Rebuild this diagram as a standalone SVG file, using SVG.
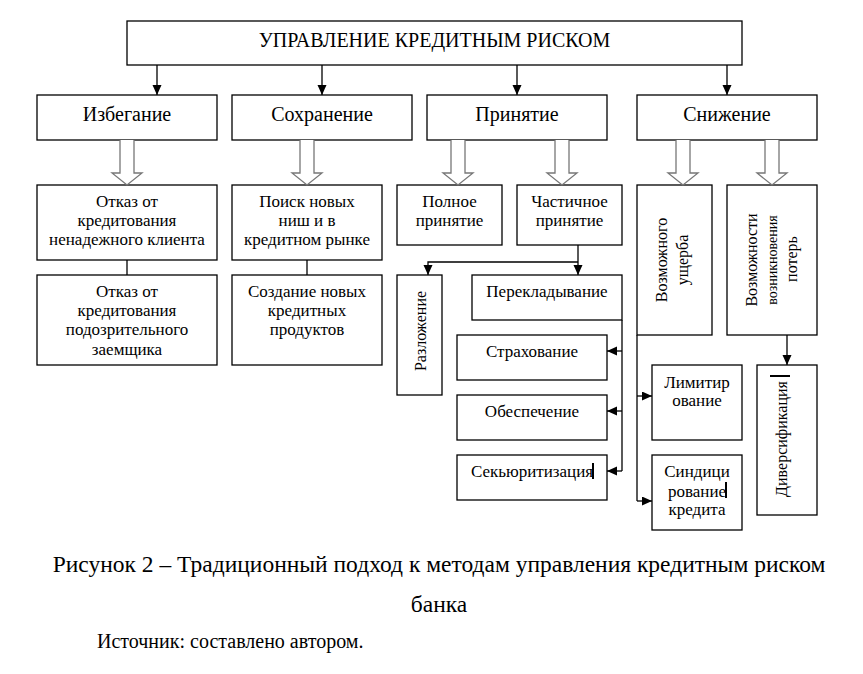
<svg xmlns="http://www.w3.org/2000/svg" width="863" height="674" viewBox="0 0 863 674" font-family="'Liberation Serif', serif">
<style>
.box{fill:#fff;stroke:#000;stroke-width:1.3}
.t{fill:#000;text-anchor:middle}
.h{font-size:20px}
.s{font-size:17px}
.r{font-size:16px}
.ln{fill:none;stroke:#000;stroke-width:1.3}
.ar{fill:none;stroke:#000;stroke-width:1.3;marker-end:url(#ah)}
.ha{fill:#fff;stroke:#777;stroke-width:1.3}
.cur{fill:#000}
</style>
<defs>
<marker id="ah" markerUnits="userSpaceOnUse" markerWidth="10" markerHeight="10" refX="10" refY="4.5" orient="auto">
<path d="M0,0 L10,4.5 L0,9 z" fill="#000"/>
</marker>
</defs>
<rect width="863" height="674" fill="#fff"/>

<g id="root"><rect class="box" x="127" y="21" width="615" height="44"/><text class="t h" x="434.5" y="47">УПРАВЛЕНИЕ КРЕДИТНЫМ РИСКОМ</text></g>

<g id="izb"><rect class="box" x="37" y="95" width="180" height="45"/><text class="t h" x="127" y="121">Избегание</text></g>
<g id="sokh"><rect class="box" x="232" y="95" width="180" height="45"/><text class="t h" x="322" y="121">Сохранение</text></g>
<g id="prin"><rect class="box" x="427" y="95" width="180" height="45"/><text class="t h" x="517" y="121">Принятие</text></g>
<g id="snizh"><rect class="box" x="637" y="95" width="180" height="45"/><text class="t h" x="727" y="121">Снижение</text></g>

<g id="otkaz1"><rect class="box" x="37" y="185" width="180" height="75"/><text class="t s" x="127" y="207">Отказ от<tspan x="127" y="226">кредитования</tspan><tspan x="127" y="245">ненадежного клиента</tspan></text></g>
<g id="otkaz2"><rect class="box" x="37" y="275" width="180" height="90"/><text class="t s" x="127" y="297">Отказ от<tspan x="127" y="316">кредитования</tspan><tspan x="127" y="335">подозрительного</tspan><tspan x="127" y="355">заемщика</tspan></text></g>
<g id="poisk"><rect class="box" x="232" y="185" width="150" height="75"/><text class="t s" x="307" y="207">Поиск новых<tspan x="307" y="226">ниш и в</tspan><tspan x="307" y="245">кредитном рынке</tspan></text></g>
<g id="sozd"><rect class="box" x="232" y="275" width="150" height="90"/><text class="t s" x="307" y="297">Создание новых<tspan x="307" y="316">кредитных</tspan><tspan x="307" y="335">продуктов</tspan></text></g>

<g id="polnoe"><rect class="box" x="397" y="185" width="105" height="60"/><text class="t s" x="449.5" y="207">Полное<tspan x="449.5" y="226">принятие</tspan></text></g>
<g id="chast"><rect class="box" x="517" y="185" width="105" height="60"/><text class="t s" x="569.5" y="207">Частичное<tspan x="569.5" y="226">принятие</tspan></text></g>

<g id="razl"><rect class="box" x="397" y="275" width="45" height="120"/><text class="t r" transform="translate(426,331) rotate(-90)">Разложение</text></g>
<g id="perekl"><rect class="box" x="472" y="275" width="150" height="45"/><text class="t s" x="547" y="297">Перекладывание</text></g>
<g id="strakh"><rect class="box" x="457" y="335" width="150" height="45"/><text class="t s" x="532" y="357">Страхование</text></g>
<g id="obesp"><rect class="box" x="457" y="395" width="150" height="45"/><text class="t s" x="532" y="417">Обеспечение</text></g>
<g id="sek"><rect class="box" x="457" y="455" width="150" height="45"/><text class="t s" x="532" y="477">Секьюритизация</text><rect class="cur" x="592" y="463" width="2" height="16"/></g>

<g id="vozm"><rect class="box" x="637" y="185" width="75" height="150"/><text class="t r" transform="translate(667,260) rotate(-90)">Возможного</text><text class="t r" transform="translate(688,260) rotate(-90)">ущерба</text></g>
<g id="vozmpot"><rect class="box" x="727" y="185" width="90" height="150"/><text class="t r" transform="translate(757,260) rotate(-90)">Возможности</text><text class="t" style="font-size:14px" transform="translate(777,260) rotate(-90)">возникновения</text><text class="t r" transform="translate(797,259) rotate(-90)">потерь</text></g>
<g id="limit"><rect class="box" x="652" y="365" width="90" height="75"/><text class="t s" x="697" y="388">Лимитир<tspan x="697" y="406">ование</tspan></text></g>
<g id="sindic"><rect class="box" x="652" y="455" width="90" height="75"/><text class="t s" x="697" y="477">Синдици<tspan x="697" y="497">рование</tspan><tspan x="697" y="515">кредита</tspan></text><rect class="cur" x="725" y="482" width="2" height="16"/></g>
<g id="divers"><rect class="box" x="757" y="365" width="60" height="150"/><text class="t r" transform="translate(787,439) rotate(-90)">Диверсификация</text><rect class="cur" x="770" y="375" width="20" height="2"/></g>

<g id="connectors">
<path class="ar" d="M157,65 V95"/>
<path class="ar" d="M322,65 V95"/>
<path class="ar" d="M517,65 V95"/>
<path class="ar" d="M727,65 V95"/>
<polyline class="ha" points="120,140 120,173 112,173 127,185 142,173 134,173 134,140"/>
<polyline class="ha" points="300,140 300,173 292,173 307,185 322,173 314,173 314,140"/>
<polyline class="ha" points="451,140 451,173 443,173 458,185 473,173 465,173 465,140"/>
<polyline class="ha" points="555,140 555,173 547,173 562,185 577,173 569,173 569,140"/>
<polyline class="ha" points="676,140 676,173 668,173 683,185 698,173 690,173 690,140"/>
<polyline class="ha" points="765,140 765,173 757,173 772,185 787,173 779,173 779,140"/>
<path class="ln" d="M127,260 V275"/>
<path class="ln" d="M307,260 V275"/>
<path class="ar" d="M578,245 V275"/>
<path class="ar" d="M578,262 H428 V275"/>
<path class="ln" d="M622,320 V471"/>
<path class="ar" d="M622,351 H607"/>
<path class="ar" d="M622,411 H607"/>
<path class="ar" d="M622,471 H607"/>
<path class="ln" d="M637,335 V501"/>
<path class="ar" d="M637,396 H652"/>
<path class="ar" d="M637,501 H652"/>
<path class="ar" d="M787,335 V365"/>
</g>

<g id="caption">
<text class="t" style="font-size:23.5px" x="439" y="572">Рисунок 2 – Традиционный подход к методам управления кредитным риском</text>
<text class="t" style="font-size:23.5px" x="439" y="612">банка</text>
<text class="t" style="font-size:20px;text-anchor:start" x="97" y="648">Источник: составлено автором.</text>
</g>
</svg>
